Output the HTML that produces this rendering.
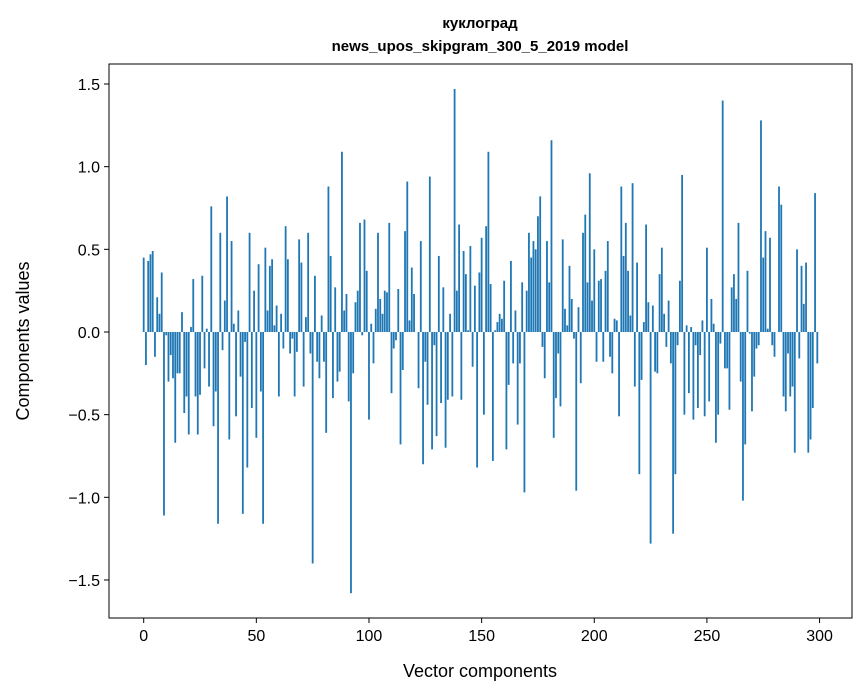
<!DOCTYPE html>
<html><head><meta charset="utf-8">
<style>
body{margin:0;background:#fff;}
svg{display:block;font-family:"Liberation Sans","DejaVu Sans",sans-serif;}
</style></head>
<body>
<svg id="chart" width="867" height="696" viewBox="0 0 867 696" xmlns="http://www.w3.org/2000/svg">
<rect x="0" y="0" width="867" height="696" fill="#fff"/>
<text x="480" y="28" text-anchor="middle" font-size="15" font-weight="bold">куклоград</text>
<text x="480" y="51" text-anchor="middle" font-size="15" font-weight="bold">news_upos_skipgram_300_5_2019 model</text>
<g id="bars"></g>
<g id="axes"></g>
<rect x="109" y="64" width="743" height="554" fill="none" stroke="#000" stroke-width="1"/>
<text x="480" y="677" text-anchor="middle" font-size="18">Vector components</text>
<text x="29" y="341" text-anchor="middle" font-size="18" transform="rotate(-90 29 341)">Components values</text>
</svg>
<script>
const values = [
0.45,-0.20,0.43,0.47,0.49,-0.15,0.21,0.11,0.36,-1.11,
-0.02,-0.30,-0.14,-0.28,-0.67,-0.25,-0.25,0.12,-0.49,-0.39,
-0.62,0.03,0.32,-0.39,-0.62,-0.38,0.34,-0.22,0.02,-0.33,
0.76,-0.57,-0.36,-1.16,0.60,-0.11,0.19,0.82,-0.65,0.55,
0.05,-0.51,0.13,-0.27,-1.10,-0.06,-0.82,0.60,-0.46,0.25,
-0.64,0.41,-0.36,-1.16,0.51,0.13,0.40,0.44,0.04,0.16,
-0.39,0.11,-0.10,0.64,0.44,-0.13,-0.04,-0.39,-0.12,0.56,
0.42,-0.33,0.09,0.60,-0.13,
-1.40,0.34,-0.18,-0.28,0.10,-0.18,-0.61,0.88,0.46,-0.40,
0.27,-0.30,-0.24,1.09,0.13,0.23,-0.42,-1.58,-0.25,0.18,
0.25,0.66,-0.02,0.68,0.37,-0.53,0.05,-0.19,0.14,0.60,
0.20,0.11,0.25,0.24,0.66,-0.37,-0.10,-0.05,0.26,-0.68,
-0.23,0.61,0.91,0.07,0.39,0.23,0.0,-0.34,0.55,-0.80,
-0.18,-0.44,0.94,-0.71,-0.08,-0.63,0.46,-0.43,0.27,-0.70,
-0.41,0.11,-0.39,1.47,0.25,0.65,-0.41,0.49,0.35,0.01,
0.52,-0.21,0.28,-0.82,0.36,
0.57,-0.50,0.64,1.09,0.29,-0.78,0.01,0.06,0.11,0.08,
0.31,-0.71,-0.32,0.43,-0.19,0.13,-0.56,-0.19,0.30,-0.97,
0.25,0.60,0.45,0.55,0.50,0.70,0.82,-0.09,-0.28,0.55,
0.30,1.16,-0.64,-0.40,-0.13,-0.45,0.56,0.14,0.04,0.40,
0.20,-0.04,-0.96,0.15,-0.31,0.60,0.71,0.30,0.96,0.19,
0.50,-0.18,0.31,0.32,-0.18,0.37,0.55,-0.15,-0.25,0.08,
0.07,-0.51,0.88,0.46,0.66,0.37,0.10,0.90,-0.33,0.42,
-0.86,-0.29,0.06,0.65,0.18,
-1.28,0.16,-0.24,-0.25,0.35,0.51,0.11,-0.09,0.19,-0.19,
-1.22,-0.86,-0.08,0.31,0.95,-0.50,0.04,-0.37,0.03,-0.53,
-0.08,-0.46,-0.14,0.07,-0.51,0.51,-0.42,0.20,0.05,-0.67,
-0.50,-0.07,1.40,-0.22,-0.22,-0.47,0.27,0.35,0.20,0.66,
-0.30,-1.02,-0.68,0.37,-0.01,-0.48,-0.27,-0.10,-0.08,1.28,
0.45,0.61,0.02,0.57,-0.08,-0.15,0.0,0.88,0.77,-0.39,
-0.48,-0.13,-0.39,-0.33,-0.73,0.50,-0.16,0.40,0.17,0.42,
-0.73,-0.65,-0.46,0.84,-0.19
];
const xTicks = [0,50,100,150,200,250,300];
const yTicks = [-1.5,-1.0,-0.5,0.0,0.5,1.0,1.5];
const yTickLabels = ["−1.5","−1.0","−0.5","0.0","0.5","1.0","1.5"];

const NS = "http://www.w3.org/2000/svg";
const L = 109, R = 852, T = 64, B = 618;
const xMin = -15.4, xMax = 314.4, yMin = -1.730, yMax = 1.621;
function xs(v){ return L + (v - xMin) / (xMax - xMin) * (R - L); }
function ys(v){ return B - (v - yMin) / (yMax - yMin) * (B - T); }

const barsG = document.getElementById('bars');
values.forEach(function(v, i){
  const r = document.createElementNS(NS, 'rect');
  const x0 = xs(i - 0.4), x1 = xs(i + 0.4);
  const y0 = ys(Math.max(v, 0)), y1 = ys(Math.min(v, 0));
  r.setAttribute('x', x0);
  r.setAttribute('width', x1 - x0);
  r.setAttribute('y', y0);
  r.setAttribute('height', Math.max(y1 - y0, 0));
  r.setAttribute('fill', '#1f77b4');
  
  
  barsG.appendChild(r);
});

const axesG = document.getElementById('axes');
xTicks.forEach(function(t){
  const x = xs(t);
  const ln = document.createElementNS(NS, 'line');
  ln.setAttribute('x1', x); ln.setAttribute('x2', x);
  ln.setAttribute('y1', B); ln.setAttribute('y2', B + 5);
  ln.setAttribute('stroke', '#000');
  
  
  axesG.appendChild(ln);
  const tx = document.createElementNS(NS, 'text');
  tx.setAttribute('x', x); tx.setAttribute('y', B + 23);
  tx.setAttribute('text-anchor', 'middle');
  tx.setAttribute('font-size', '16');
  tx.textContent = String(t);
  
  
  axesG.appendChild(tx);
});
yTicks.forEach(function(t, k){
  const y = ys(t);
  const ln = document.createElementNS(NS, 'line');
  ln.setAttribute('x1', L - 5); ln.setAttribute('x2', L);
  ln.setAttribute('y1', y); ln.setAttribute('y2', y);
  ln.setAttribute('stroke', '#000');
  
  
  axesG.appendChild(ln);
  const tx = document.createElementNS(NS, 'text');
  tx.setAttribute('x', L - 9); tx.setAttribute('y', y + 6);
  tx.setAttribute('text-anchor', 'end');
  tx.setAttribute('font-size', '16');
  tx.textContent = yTickLabels[k];
  
  
  axesG.appendChild(tx);
});
</script>
</body></html>
